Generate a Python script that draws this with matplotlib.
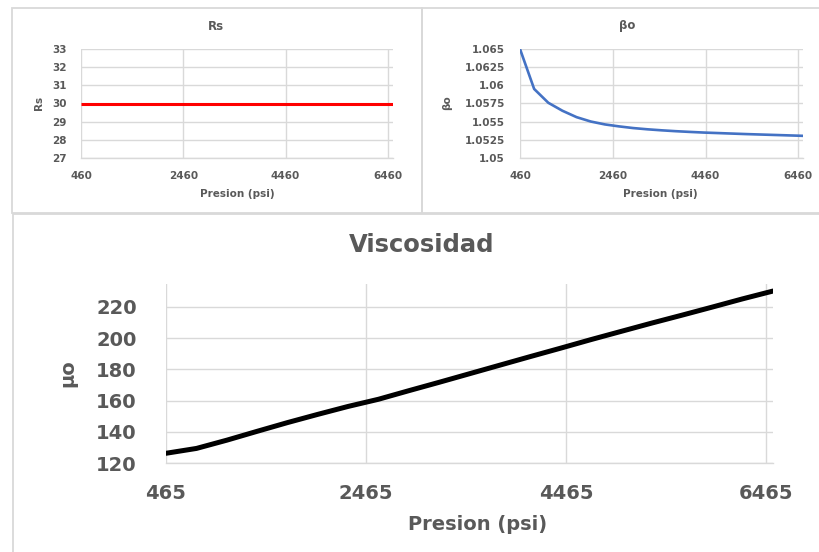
import matplotlib
matplotlib.use("Agg")
import matplotlib.pyplot as plt
from matplotlib.patches import Rectangle

# ---------------- data ----------------
p_top = [460, 765, 1070, 1375, 1680, 1985, 2290, 2595, 2900, 3205, 3510,
         3815, 4120, 4425, 4730, 5035, 5340, 5645, 5950, 6255, 6560]
rs_vals = [30] * len(p_top)
bo_vals = [1.06500, 1.05950, 1.05760, 1.05650, 1.05562, 1.05502, 1.05462,
           1.05435, 1.05412, 1.05395, 1.05381, 1.05369, 1.05359, 1.05350,
           1.05343, 1.05336, 1.05329, 1.05323, 1.05317, 1.05311, 1.05305]

p_visc = [465, 770, 1075, 1375, 1680, 1980, 2285, 2590, 2895, 3195, 3500,
          3805, 4105, 4410, 4715, 5020, 5320, 5625, 5930, 6230, 6535]
mu_vals = [126.4, 129.5, 134.8, 140.4, 146.0, 151.2, 156.3, 160.9, 166.4,
           171.7, 177.2, 182.7, 188.1, 193.5, 199.0, 204.3, 209.5, 214.6,
           219.8, 225.0, 230.0]

x_ticks_top = [460, 2460, 4460, 6460]
rs_ticks = [27, 28, 29, 30, 31, 32, 33]
bo_ticks = [1.05, 1.0525, 1.055, 1.0575, 1.06, 1.0625, 1.065]
bo_ticklabels = ["1.05", "1.0525", "1.055", "1.0575", "1.06", "1.0625", "1.065"]
x_ticks_visc = [465, 2465, 4465, 6465]
mu_ticks = [120, 140, 160, 180, 200, 220]

# ---------------- figure ----------------
W, H = 819, 552
plt.rcParams['font.family'] = ['DejaVu Sans']
fig = plt.figure(figsize=(W / 100, H / 100), dpi=100)
fig.patch.set_facecolor('white')

TXT = '#595959'
GRID = '#D9D9D9'


def fx(x):
    return x / W


def fy(y):
    return 1 - y / H


def axes_px(x0, y0, x1, y1):
    return fig.add_axes([fx(x0), fy(y1), (x1 - x0) / W, (y1 - y0) / H])


def style(ax, fs, xpad, ypad):
    for s in ['top', 'right', 'left']:
        ax.spines[s].set_visible(False)
    ax.spines['bottom'].set_color(GRID)
    ax.spines['bottom'].set_linewidth(1.0)
    ax.grid(True, color=GRID, linewidth=1.0)
    ax.set_axisbelow(True)
    ax.tick_params(axis='both', length=0, labelsize=fs, labelcolor=TXT)
    ax.tick_params(axis='x', pad=xpad)
    ax.tick_params(axis='y', pad=ypad)
    for lab in ax.get_xticklabels() + ax.get_yticklabels():
        lab.set_fontweight('bold')


def panel(x0, y0, x1, y1):
    fig.add_artist(Rectangle((fx(x0), fy(y1)), (x1 - x0) / W, (y1 - y0) / H,
                             transform=fig.transFigure, fill=False,
                             ec=GRID, lw=1.3))


def ftext(x, y, s, size, rot=0):
    fig.text(fx(x), fy(y), s, ha='center', va='center', fontsize=size,
             fontweight='bold', color=TXT, rotation=rot)


# panel borders
panel(12, 8, 422, 213)
panel(422, 8, 824, 213)
panel(13, 214, 824, 560)

# ---- Rs ----
ax1 = axes_px(81, 49, 393, 158)
ax1.plot(p_top, rs_vals, color='#FF0000', lw=2.2, solid_capstyle='butt')
ax1.set_xlim(460, 6560)
ax1.set_ylim(27, 33)
ax1.set_xticks(x_ticks_top)
ax1.set_yticks(rs_ticks)
style(ax1, 7.5, 9.5, 10.5)
ftext(216, 26, "Rs", 8.5)
ftext(39, 103, "Rs", 7.5, rot=90)
ftext(237, 194, "Presion (psi)", 7.5)

# ---- Bo ----
ax2 = axes_px(520, 49, 803, 158)
ax2.plot(p_top, bo_vals, color='#4472C4', lw=1.9, solid_capstyle='round',
         solid_joinstyle='round')
ax2.set_xlim(460, 6560)
ax2.set_ylim(1.05, 1.065)
ax2.set_xticks(x_ticks_top)
ax2.set_yticks(bo_ticks)
ax2.set_yticklabels(bo_ticklabels)
style(ax2, 7.5, 9.5, 11)
ftext(627, 26, "βo", 8.5)
ftext(447, 103, "βo", 7.5, rot=90)
ftext(660, 194, "Presion (psi)", 7.5)

# ---- Viscosidad ----
ax3 = axes_px(166, 284, 773, 463.3)
ax3.plot(p_visc, mu_vals, color='black', lw=3.6, solid_capstyle='round',
         solid_joinstyle='round')
ax3.set_xlim(465, 6535)
ax3.set_ylim(120, 234.5)
ax3.set_xticks(x_ticks_visc)
ax3.set_yticks(mu_ticks)
style(ax3, 14, 15, 21)
ftext(422, 245, "Viscosidad", 17.5)
ftext(68, 373, "μo", 14, rot=90)
ftext(478, 525, "Presion (psi)", 14)

fig.savefig("out.png", dpi=100)
